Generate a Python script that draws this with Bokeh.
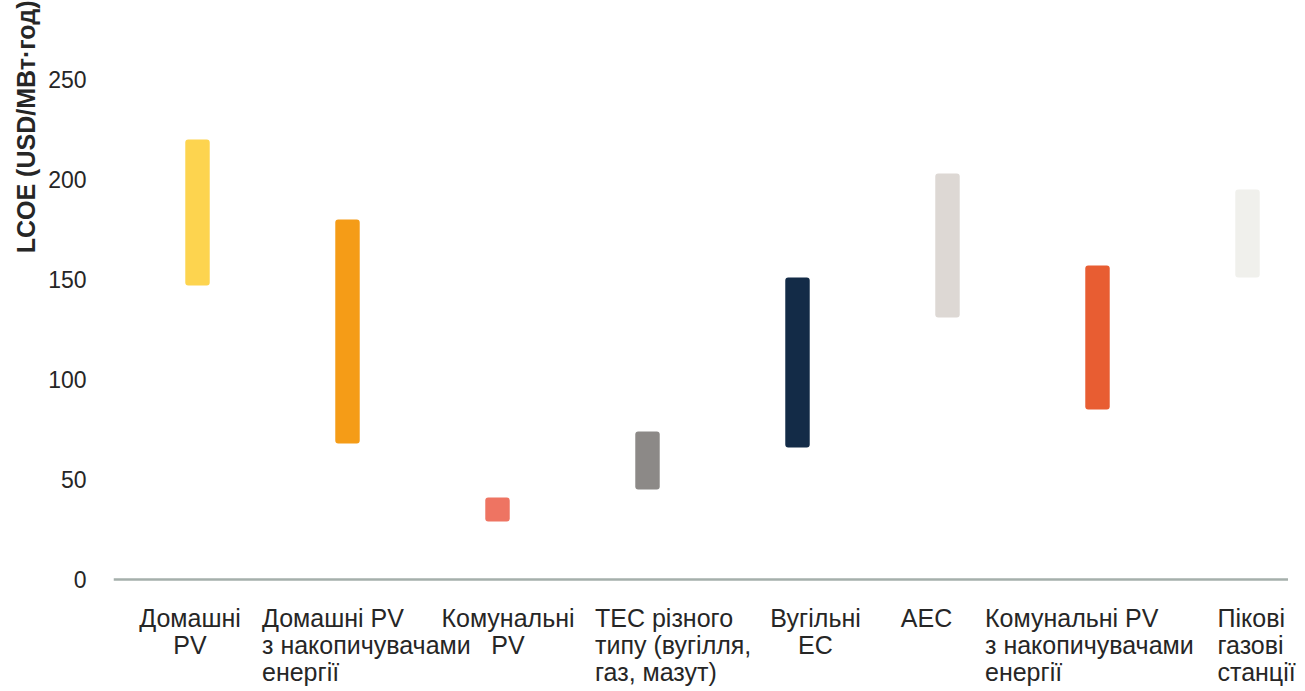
import numpy as np
from bokeh.plotting import figure
from bokeh.models import Range1d, FixedTicker, Title, ColumnDataSource
from bokeh.core.properties import value
from bokeh.embed import file_html
from bokeh.resources import INLINE

# ---- data ----
categories = [
    "Домашні\nPV",
    "Домашні PV\nз накопичувачами\nенергії",
    "Комунальні\nPV",
    "ТЕС різного\nтипу (вугілля,\nгаз, мазут)",
    "Вугільні\nЕС",
    "АЕС",
    "Комунальні PV\nз накопичувачами\nенергії",
    "Пікові\nгазові\nстанції",
]
lcoe_low = [147, 68, 29, 45, 66, 131, 85, 151]
lcoe_high = [220, 180, 41, 74, 151, 203, 157, 195]
y_ticks = [0, 50, 100, 150, 200, 250]

# ---- styles ----
colors = ["#FDD44F", "#F59C17", "#EE7462", "#8C8987", "#132B47",
          "#DDD8D4", "#E85D32", "#F0F0EC"]
label_offset = [-0.05, -0.57, 0.07, -0.35, 0.12, -0.14, -0.75, -0.2]
label_align = ["center", "left", "center", "left", "center", "center", "left", "left"]

FONT = "Liberation Sans"
TXT = "#262626"

x = np.arange(len(categories))

p = figure(width=1305, height=691, output_backend="svg", toolbar_location=None,
           x_range=Range1d(-0.56, 7.3867), y_range=Range1d(-56, 289.5),
           min_border_left=113, min_border_right=0, min_border_top=0,
           min_border_bottom=0)
p.outline_line_color = None
p.background_fill_color = "white"
p.border_fill_color = "white"
p.grid.visible = False
p.xaxis.visible = False

yax = p.yaxis[0]
yax.ticker = FixedTicker(ticks=y_ticks)
yax.axis_line_color = None
yax.major_tick_line_color = None
yax.minor_tick_line_color = None
yax.major_label_standoff = 21
yax.major_label_text_font = FONT
yax.major_label_text_font_size = "23px"
yax.major_label_text_color = TXT

# baseline at zero
p.segment(x0=[-0.56], y0=[0], x1=[7.27], y1=[0], line_color="#A5AFAB", line_width=2.5)

src = ColumnDataSource(dict(x=x, low=lcoe_low, high=lcoe_high, color=colors))
p.vbar(x="x", bottom="low", top="high", width=0.163, fill_color="color",
       line_color=None, source=src, border_radius=3)

lab_src = ColumnDataSource(dict(
    x=x + np.array(label_offset), y=[-12] * len(categories),
    text=categories, align=label_align))
p.text(x="x", y="y", text="text", text_align="align", text_baseline="top",
       text_font=value(FONT), text_font_size="25px", text_color=TXT,
       text_line_height=0.98, source=lab_src)

ytitle = Title(text="LCOE (USD/МВт·год)", align="right", text_font=FONT,
               text_font_style="bold", text_font_size="25px", text_color=TXT,
               standoff=11)
p.add_layout(ytitle, "left")

open("out.html", "w").write(file_html(p, INLINE))
